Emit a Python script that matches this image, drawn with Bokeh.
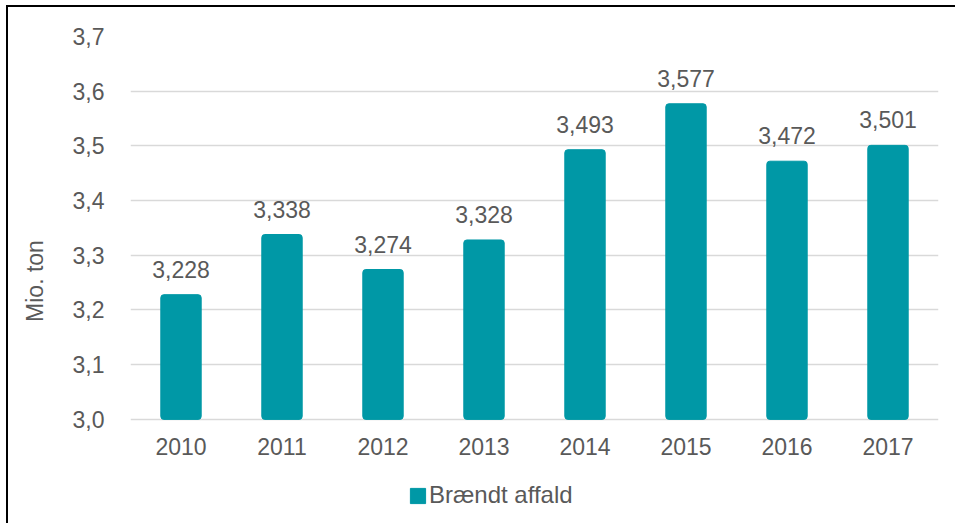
from bokeh.plotting import figure
from bokeh.models import (ColumnDataSource, LabelSet, Legend, LegendItem,
                          FixedTicker, CustomJSTickFormatter, Range1d)
from bokeh.core.properties import value
from bokeh.embed import file_html
from bokeh.resources import INLINE

years = ["2010", "2011", "2012", "2013", "2014", "2015", "2016", "2017"]
values = [3.228, 3.338, 3.274, 3.328, 3.493, 3.577, 3.472, 3.501]
value_labels = ["3,228", "3,338", "3,274", "3,328", "3,493", "3,577", "3,472", "3,501"]
y_ticks = [3.0, 3.1, 3.2, 3.3, 3.4, 3.5, 3.6, 3.7]
series_name = "Brændt affald"
y_title = "Mio. ton"

TEAL = "#0098A6"
GRAY = "#595959"
FONT = "Liberation Sans"
FS = "23px"

src = ColumnDataSource(dict(x=years, top=values, lab=value_labels))

# frame extends below 3.0 so the legend can sit inside it
p = figure(x_range=years, y_range=Range1d(2.806, 3.7), width=949, height=518,
           output_backend="svg", toolbar_location=None,
           min_border_left=122, min_border_right=19, min_border_top=29,
           min_border_bottom=0)
p.styles = {"border-left": "2px solid black", "border-top": "2px solid black",
            "margin-left": "6px", "margin-top": "5px"}
p.outline_line_color = None

r = p.vbar(x="x", top="top", bottom=3.0, width=0.4, source=src,
           fill_color=TEAL, line_color=TEAL, border_radius=3)

p.xgrid.grid_line_color = None
p.ygrid.grid_line_color = "#d9d9d9"
p.ygrid.grid_line_width = 1.5
p.ygrid.level = "underlay"

p.yaxis.ticker = FixedTicker(ticks=y_ticks)
p.yaxis.formatter = CustomJSTickFormatter(code="return tick.toFixed(1).replace('.', ',');")
for ax in (p.xaxis[0], p.yaxis[0]):
    ax.axis_line_color = None
    ax.major_tick_line_color = None
    ax.minor_tick_line_color = None
    ax.major_label_text_font = FONT
    ax.major_label_text_font_size = FS
    ax.major_label_text_color = GRAY
p.xaxis.fixed_location = 3.0
p.yaxis.major_label_standoff = 20
p.xaxis.major_label_standoff = 13
p.yaxis.axis_label = y_title
p.yaxis.axis_label_text_font = FONT
p.yaxis.axis_label_text_font_size = FS
p.yaxis.axis_label_text_font_style = "normal"
p.yaxis.axis_label_text_color = GRAY
p.yaxis.axis_label_standoff = 22

labels = LabelSet(x="x", y="top", text="lab", source=src, text_align="center",
                  text_baseline="bottom", y_offset=17, text_font_size=value(FS),
                  text_color=value(GRAY), text_font=value(FONT))
p.add_layout(labels)

legend = Legend(items=[LegendItem(label=series_name, renderers=[r])],
                location=(278, 16), orientation="horizontal",
                label_text_font=FONT, label_text_font_size="24px",
                label_text_color=GRAY, glyph_width=19, glyph_height=19,
                label_standoff=2, border_line_color=None,
                background_fill_alpha=0, padding=0, margin=0)
p.add_layout(legend, "center")

open("out.html", "w").write(file_html(p, INLINE))
